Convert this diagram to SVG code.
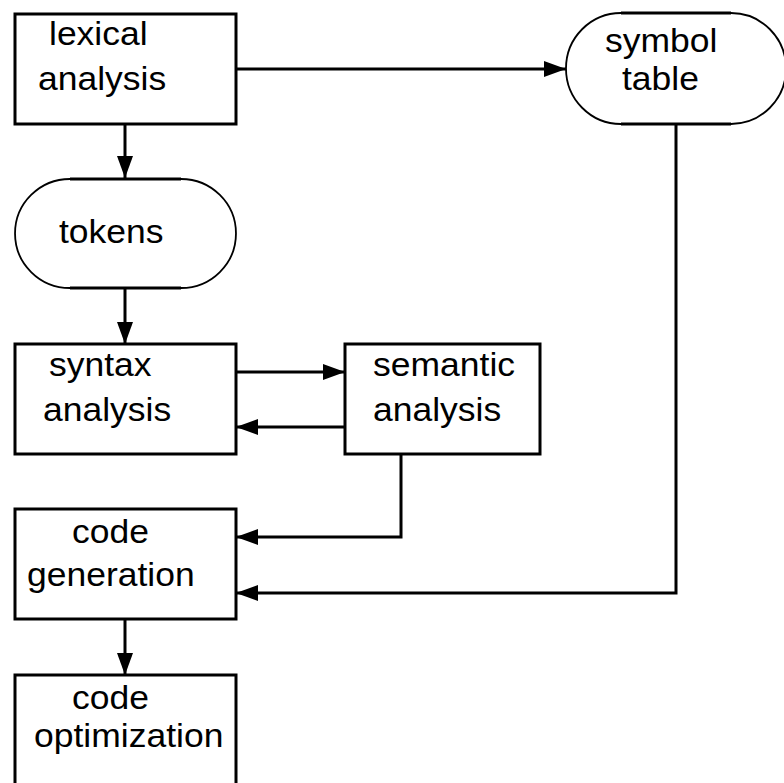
<svg xmlns="http://www.w3.org/2000/svg" width="784" height="783" viewBox="0 0 784 783">
<style>
.box{fill:#fff;stroke:#000;stroke-width:3}
.arc{fill:#fff;stroke:#000;stroke-width:1.8}
.flat{stroke:#000;stroke-width:3;fill:none}
.lbl{font-family:"Liberation Sans",Arial,sans-serif;font-size:33.5px;fill:#000}
.conn{stroke:#000;stroke-width:3;fill:none;marker-end:url(#ah)}
</style>
<defs>
<marker id="ah" markerUnits="userSpaceOnUse" markerWidth="22" markerHeight="16" refX="22" refY="8" orient="auto">
<path d="M0,0 L22,8 L0,16 Z" fill="#000"/>
</marker>
</defs>
<rect width="784" height="783" fill="#fff"/>
<g id="connectors">
<path class="conn" d="M125,124 V178"/>
<path class="conn" d="M236,69 H566"/>
<path class="conn" d="M125,288 V344"/>
<path class="conn" d="M236,372 H345"/>
<path class="conn" d="M345,427 H236"/>
<path class="conn" d="M401,454 V537 H236"/>
<path class="conn" d="M676,124 V593 H236"/>
<path class="conn" d="M125,619 V675"/>
</g>
<g id="lexical">
<rect class="box" x="15" y="14" width="221" height="110"/>
<text class="lbl" transform="translate(49,45) scale(1.06,1)">lexical</text>
<text class="lbl" transform="translate(38,90) scale(1.06,1)">analysis</text>
</g>
<g id="symbol">
<path class="arc" d="M621,13 H731 A55,55.5 0 0 1 731,124 H621 A55,55.5 0 0 1 621,13 Z"/>
<path class="flat" d="M621,13 H731 M621,124 H731"/>
<text class="lbl" transform="translate(605,52) scale(1.06,1)">symbol</text>
<text class="lbl" transform="translate(622,90) scale(1.06,1)">table</text>
</g>
<g id="tokens">
<path class="arc" d="M70,179 H181 A55,54.5 0 0 1 181,288 H70 A55,54.5 0 0 1 70,179 Z"/>
<path class="flat" d="M70,179 H181 M70,288 H181"/>
<text class="lbl" transform="translate(59,243) scale(1.06,1)">tokens</text>
</g>
<g id="syntax">
<rect class="box" x="15" y="344" width="221" height="110"/>
<text class="lbl" transform="translate(49,376) scale(1.06,1)">syntax</text>
<text class="lbl" transform="translate(43,421) scale(1.06,1)">analysis</text>
</g>
<g id="semantic">
<rect class="box" x="345" y="344" width="195" height="110"/>
<text class="lbl" transform="translate(373,376) scale(1.06,1)">semantic</text>
<text class="lbl" transform="translate(373,421) scale(1.06,1)">analysis</text>
</g>
<g id="codegen">
<rect class="box" x="15" y="509" width="221" height="110"/>
<text class="lbl" transform="translate(72,543) scale(1.06,1)">code</text>
<text class="lbl" transform="translate(27,586) scale(1.06,1)">generation</text>
</g>
<g id="codeopt">
<rect class="box" x="15" y="675" width="221" height="115"/>
<text class="lbl" transform="translate(72,709) scale(1.06,1)">code</text>
<text class="lbl" transform="translate(34,747) scale(1.06,1)">optimization</text>
</g>
</svg>
